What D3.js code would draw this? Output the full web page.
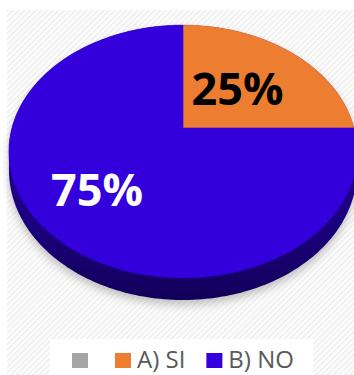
<!DOCTYPE html>
<html>
<head>
<meta charset="utf-8">
<script src="https://cdn.jsdelivr.net/npm/d3@7"></script>
<style>
  body { margin: 0; background: #fff; }
  svg { display: block; }
</style>
</head>
<body>
<script>
// chart data
const categories = ["A) SI", "B) NO"];
const values = [25, 75];
const sliceColors = ["#ed7d31", "#3300dc"];
const legendNames = ["", "A) SI", "B) NO"];
const legendColors = ["#a5a5a5", "#ed7d31", "#3300dc"];

const W = 354, H = 375;

// perspective settings for the tilted disc
const cx = 183, cy = 128;
const fx = 171, fy = 122;
const persp = 0.186;   // how much nearer edge is enlarged
const depth = 18;      // thickness of the disc

// angle a (clockwise from 12 o'clock), radius r (0..1), z 0 = top face, 1 = bottom face
function proj(a, r, z) {
  const u = r * Math.sin(a), v = r * Math.cos(a);
  const k = 1 + persp * v;
  return [cx + fx * u / k, cy - fy * v / k + z * depth / k];
}

const svg = d3.select("body").append("svg")
  .attr("width", W)
  .attr("height", H);

const defs = svg.append("defs");

// light diagonal stripes of the plot area
const pat = defs.append("pattern")
  .attr("id", "stripes")
  .attr("width", 4).attr("height", 4)
  .attr("patternUnits", "userSpaceOnUse")
  .attr("patternTransform", "rotate(45)");
pat.append("rect").attr("width", 4).attr("height", 4).attr("fill", "#fdfdfd");
pat.append("rect").attr("width", 1.3).attr("height", 4).attr("fill", "#ececec");

const sideGrad = defs.append("linearGradient")
  .attr("id", "side").attr("x1", 0).attr("y1", 0).attr("x2", 0).attr("y2", 1);
sideGrad.append("stop").attr("offset", "0%").attr("stop-color", "#2300a0");
sideGrad.append("stop").attr("offset", "70%").attr("stop-color", "#1c0080");
sideGrad.append("stop").attr("offset", "100%").attr("stop-color", "#12005a");

const blur = defs.append("filter").attr("id", "shadow")
  .attr("x", "-20%").attr("y", "-20%").attr("width", "140%").attr("height", "140%");
blur.append("feGaussianBlur").attr("stdDeviation", 4);

svg.append("rect")
  .attr("x", 7).attr("y", 10)
  .attr("width", W - 7).attr("height", H - 10)
  .attr("fill", "url(#stripes)");

// pie layout
const pie = d3.pie().sort(null).startAngle(0).endAngle(2 * Math.PI);
const arcs = pie(values);

function rim(a0, a1, z) {
  const n = Math.max(2, Math.ceil((a1 - a0) / 0.02));
  return d3.range(n + 1).map(i => proj(a0 + (a1 - a0) * i / n, 1, z));
}

const line = d3.line();

// silhouette of the whole disc (top + bottom rims)
const hull = d3.polygonHull(rim(0, 2 * Math.PI, 0).concat(rim(0, 2 * Math.PI, 1)));

// soft shadow under the disc
svg.append("path")
  .attr("d", line(hull) + "Z")
  .attr("transform", "translate(0,5)")
  .attr("fill", "#8a8a8a")
  .attr("opacity", 0.5)
  .attr("filter", "url(#shadow)");

// side wall
svg.append("path")
  .attr("d", line(hull) + "Z")
  .attr("fill", "url(#side)");

// top faces
svg.selectAll("path.slice")
  .data(arcs)
  .join("path")
  .attr("class", "slice")
  .attr("d", d => line([proj(0, 0, 0)].concat(rim(d.startAngle, d.endAngle, 0))) + "Z")
  .attr("fill", (d, i) => sliceColors[i])
  .attr("stroke", (d, i) => sliceColors[i])
  .attr("stroke-width", 0.6);

// data labels
const labelR = [0.48, 0.65];
const labelFill = ["#000", "#fff"];
svg.selectAll("text.lbl")
  .data(arcs)
  .join("text")
  .attr("class", "lbl")
  .attr("x", (d, i) => proj((d.startAngle + d.endAngle) / 2, labelR[i], 0)[0])
  .attr("y", (d, i) => proj((d.startAngle + d.endAngle) / 2, labelR[i], 0)[1])
  .attr("dy", "0.36em")
  .attr("text-anchor", "middle")
  .attr("font-family", "'Open Sans', sans-serif")
  .attr("font-weight", 700)
  .attr("font-size", 45)
  .attr("fill", (d, i) => labelFill[i])
  .text((d, i) => d3.format(".0%")(values[i] / d3.sum(values)));

// legend
svg.append("rect")
  .attr("x", 50).attr("y", 339)
  .attr("width", 263).attr("height", H - 339)
  .attr("fill", "#fff");

const legend = svg.append("g");
let lx = 72;
legendNames.forEach((name, i) => {
  legend.append("rect")
    .attr("x", lx).attr("y", 353)
    .attr("width", 16).attr("height", 15)
    .attr("fill", legendColors[i]);
  const t = legend.append("text")
    .attr("x", lx + 22).attr("y", 368)
    .attr("font-family", "'Open Sans', sans-serif")
    .attr("font-size", 24)
    .attr("fill", "#595959")
    .text(name);
  lx += 22 + t.node().getComputedTextLength() + 21;
});
</script>
</body>
</html>
